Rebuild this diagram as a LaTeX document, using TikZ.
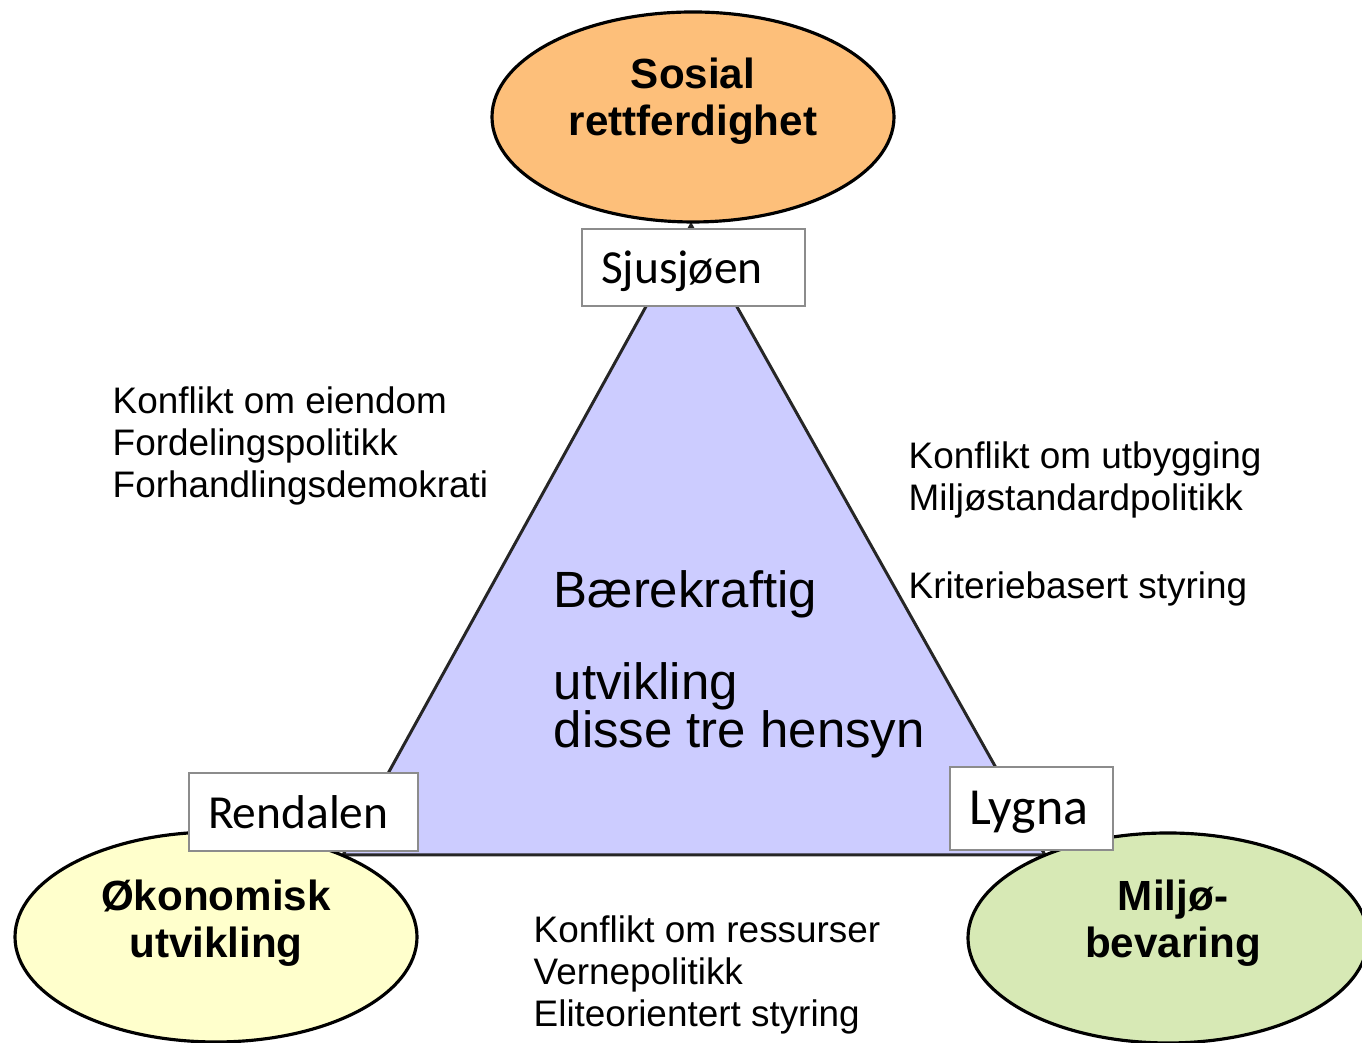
\documentclass[tikz,border=0pt]{standalone}
\usepackage{fontspec}
\setmainfont{Liberation Sans}
\newfontfamily\boxfont{Carlito}
\usetikzlibrary{shapes.geometric}
\definecolor{sosialfill}{RGB}{253,191,122}
\definecolor{okofill}{RGB}{255,255,204}
\definecolor{miljofill}{RGB}{215,233,181}
\definecolor{trifill}{RGB}{204,204,255}
\tikzset{aim/.style={ellipse, draw=black, line width=0.9pt, minimum width=4.02cm, minimum height=2.1cm, inner sep=0pt},
  aimtext/.style={align=center, inner sep=0pt, font=\bfseries\fontsize{12}{13.4}\selectfont},
  placebox/.style={draw=black!45, fill=white, line width=0.5pt, align=left, inner xsep=0.19cm, inner ysep=0pt, text height=0.43cm, text depth=0.1cm, font=\boxfont\fontsize{13.5}{15}\selectfont},
  note/.style={align=left, anchor=west, inner sep=0pt, font=\fontsize{10.5}{11.95}\selectfont}}

\begin{document}
\begin{tikzpicture}
   \useasboundingbox (0,0) rectangle (13.62,10.43);
   \coordinate (top) at (6.91,8.18);
   \coordinate (venstre) at (3.43,1.88);
   \coordinate (hoyre) at (10.45,1.88);
   \filldraw[fill=trifill, draw=black!85, line width=0.85pt] (top) -- (venstre) -- (hoyre) -- cycle;
   \node[note, font=\fontsize{14.5}{13.66}\selectfont] (midt) at (5.53,3.79) {B\ae rekraftig\\[0.44cm] utvikling\\ disse tre hensyn};

   \node[aim, fill=sosialfill] (sosial) at (6.93,9.26) {};
   \node[aim, fill=okofill] (oko) at (2.16,1.06) {};
   \node[aim, fill=miljofill, minimum width=4cm] (miljo) at (11.68,1.05) {};
   \node[aimtext] (sosialtekst) at (6.93,9.42) {Sosial\\rettferdighet};
   \node[aimtext] (okotekst) at (2.16,1.2) {\O konomisk\\utvikling};
   \node[aimtext] (miljotekst) at (11.73,1.2) {Milj\o-\\bevaring};

   \node[placebox, text width=1.85cm, minimum height=0.77cm] (sjusjoen) at (6.935,7.755) {Sjusj\o en};
   \node[placebox, text width=1.91cm, minimum height=0.78cm] (rendalen) at (3.035,2.31) {Rendalen};
   \node[placebox, text width=1.25cm, minimum height=0.83cm, font=\boxfont\fontsize{14.8}{16}\selectfont] (lygna) at (10.315,2.345) {Lygna};

   \node[note] (eiendom) at (1.12,5.97) {Konflikt om eiendom\\ Fordelingspolitikk\\ Forhandlingsdemokrati};
   \node[note] (utbygging) at (9.08,5.19) {Konflikt om utbygging\\ Milj\o standardpolitikk\\[0.46cm] Kriteriebasert styring};
   \node[note] (ressurser) at (5.33,0.68) {Konflikt om ressurser\\ Vernepolitikk\\ Eliteorientert styring};
  \end{tikzpicture}
\end{document}
